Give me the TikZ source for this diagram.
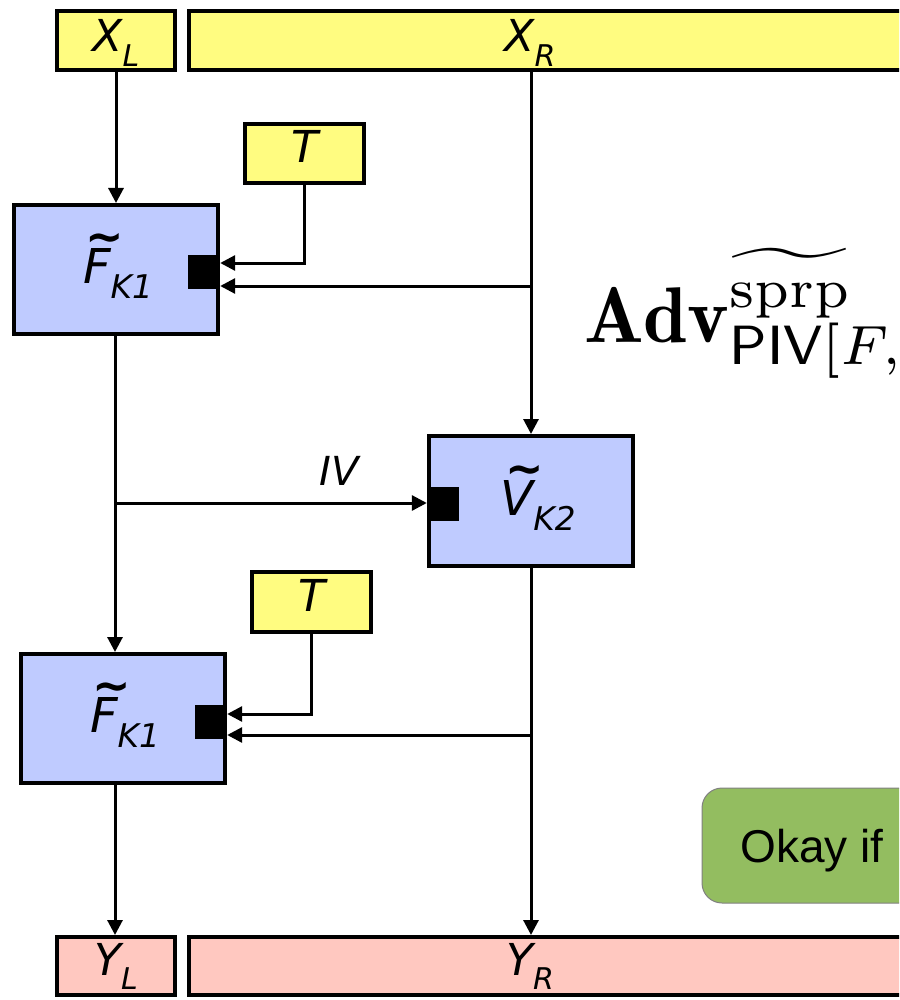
\documentclass[tikz,border=0pt]{standalone}
\usepackage{fontspec}
\usepackage{graphicx}
\usetikzlibrary{arrows.meta,calc}
\newfontfamily\labfont{DejaVu Sans}
\newfontfamily\okfont{Liberation Sans}
\definecolor{yel}{HTML}{FFFC80}
\definecolor{blu}{HTML}{BFCBFF}
\definecolor{pnk}{HTML}{FFC8C0}
\definecolor{grn}{HTML}{93BD60}
\newcommand\lab[3]{{\labfont\itshape\fontsize{#3}{#3}\selectfont #1\raisebox{-0.32em}{\fontsize{0.68\dimexpr #3pt}{1em}\selectfont #2}}}
\newcommand\tildeover[1]{\leavevmode\setbox0\hbox{#1}\rlap{\hbox to \wd0{\hss\kern16pt\raisebox{31pt}{\fontsize{46}{46}\selectfont\upshape\bfseries\char"7E}\hss}}\box0}
\newcommand\tlab[3]{{\labfont\itshape\fontsize{#3}{#3}\selectfont \tildeover{#1}\raisebox{-0.32em}{\fontsize{0.68\dimexpr #3pt}{1em}\selectfont #2}}}
\newcommand\advformula{$\mathbf{Adv}$\rlap{\raisebox{4.4pt}{$\scriptstyle\widetilde{\mathrm{sprp}}$}}\raisebox{-2.9pt}{$\scriptstyle\mathsf{PIV}[F,$}}
\tikzset{
  box/.style={draw=black,line width=4pt,inner sep=0pt},
  ybox/.style={box,fill=yel},
  bbox/.style={box,fill=blu},
  rbox/.style={box,fill=pnk},
  port/.style={fill=black,draw=none,minimum width=32pt,minimum height=34pt,inner sep=0pt},
  arr/.style={line width=3pt,-{Triangle[length=15pt,width=15pt]}},
  ln/.style={line width=3pt},
}
\begin{document}
\begin{tikzpicture}[x=1pt,y=-1pt]
\useasboundingbox (0,0) rectangle (899,1000);
\clip (0,0) rectangle (899,1000);
% top boxes
\node[ybox,minimum width=118pt,minimum height=59pt] (XL) at (116,40.5) {};
\node (XLt) at (116,43) {\lab{X}{L}{44}};
\node[ybox,minimum width=741pt,minimum height=59pt] (XR) at (559.5,40.5) {};
\node (XRt) at (530,43) {\lab{X}{R}{44}};
% T boxes
\node[ybox,minimum width=119pt,minimum height=59pt] (T1) at (304.5,153.5) {\lab{T}{}{44}};
\node[ybox,minimum width=119pt,minimum height=60pt] (T2) at (311.5,602) {\lab{T}{}{44}};
% F boxes
\node[bbox,minimum width=204pt,minimum height=129pt] (F1) at (116,269.5) {};
\node[inner sep=0pt] (F1t) at (118,266) {\tlab{F}{K1}{48}};
\node[port] (P1) at (204,272) {};
\node[bbox,minimum width=204pt,minimum height=129pt] (F2) at (123,718.5) {};
\node[inner sep=0pt] (F2t) at (125,715) {\tlab{F}{K1}{48}};
\node[port] (P2) at (211,721.5) {};
% V box
\node[bbox,minimum width=204pt,minimum height=130pt] (V) at (531,501) {};
\node[inner sep=0pt] (Vt) at (538,498) {\tlab{V}{K2}{48}};
\node[port] (PV) at (443,504) {};
% bottom boxes
\node[rbox,minimum width=118pt,minimum height=58pt] (YL) at (116,966) {};
\node (YLt) at (116,966) {\lab{Y}{L}{44}};
\node[rbox,minimum width=741pt,minimum height=58pt] (YR) at (559.5,966) {};
\node (YRt) at (530,966) {\lab{Y}{R}{44}};
% formula
\node[anchor=base west,inner sep=0pt] (adv) at (584,342) {\scalebox{7.9}{\advformula}};
% green box
\node[draw=gray,line width=1pt,fill=grn,rounded corners=20pt,minimum width=240pt,minimum height=115pt,inner sep=0pt] (ok) at (822,845.5) {};
\node[anchor=base west,inner sep=0pt] (okt) at (740,862) {\okfont\fontsize{46}{50}\selectfont Okay if};
% connectors
\coordinate (J1) at (530,286);
\coordinate (J2) at (530,735);
\coordinate (JIV) at (115,503);
\draw[arr] (XL.south) -- (F1.north);
\draw[arr] (XR.south -| V.north) -- (V.north);
\draw[arr] (T1.south) |- ([yshift=9pt]P1.east);
\draw[arr] (J1) -- (J1 -| P1.east);
\draw[ln] (F1.south -| JIV) -- (JIV);
\draw[arr] (JIV) -- (F2.north -| JIV);
\draw[arr] (JIV) -- node[pos=0.72,above=0pt] {\lab{IV}{}{40}} (JIV -| PV.west);
\draw[arr] (T2.south) |- ([yshift=7.5pt]P2.east);
\draw[arr] (V.south) -- (V.south |- YR.north);
\draw[arr] (J2) -- (J2 -| P2.east);
\draw[arr] (F2.south -| JIV) -- (YL.north -| JIV);
\end{tikzpicture}
\end{document}
